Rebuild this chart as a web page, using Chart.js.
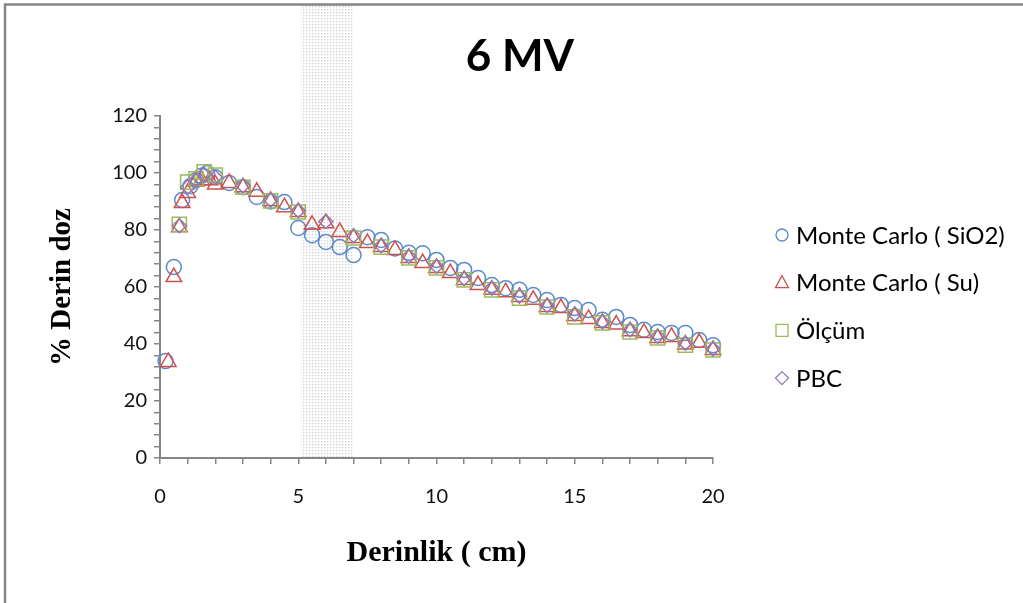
<!DOCTYPE html>
<html>
<head>
<meta charset="utf-8">
<script src="https://cdn.jsdelivr.net/npm/chart.js@4.4.1/dist/chart.umd.min.js"></script>
<style>
  html, body { margin: 0; padding: 0; background: #fff; }
  canvas { display: block; }
</style>
</head>
<body>
<canvas id="chart" width="1023" height="603"></canvas>
<script>
// values
const chartTitle = '6 MV'
const xTitle = 'Derinlik ( cm)'
const yTitle = '% Derin doz'
const seriesNames = ['Monte Carlo ( SiO2)', 'Monte Carlo ( Su)', 'Ölçüm', 'PBC']

const sio2X = [0.2, 0.5, 0.8, 1.1, 1.3, 1.5, 1.7, 2.0, 2.5, 3.0, 3.5, 4.0, 4.5, 5.0, 5.5, 6.0, 6.5, 7.0, 7.5, 8.0, 8.5, 9.0, 9.5, 10.0, 10.5, 11.0, 11.5, 12.0, 12.5, 13.0, 13.5, 14.0, 14.5, 15.0, 15.5, 16.0, 16.5, 17.0, 17.5, 18.0, 18.5, 19.0, 19.5, 20.0]
const sio2Y = [34, 67, 90.5, 95.4, 97.5, 99, 100, 98.5, 96.5, 95, 91.6, 90, 89.8, 80.7, 78.2, 75.8, 74, 71.2, 77.5, 76.5, 73.5, 72, 71.8, 69.5, 66.7, 66, 63.2, 60.7, 59.6, 59, 57.2, 55.4, 53.7, 52.6, 51.9, 48.5, 49.5, 46.7, 45, 44.2, 43.9, 43.9, 41.4, 39.6]

const suX = [0.3, 0.5, 0.7, 0.8, 1.0, 1.3, 1.5, 1.8, 2.0, 2.5, 3.0, 3.5, 4.0, 4.5, 5.0, 5.5, 6.0, 6.5, 7.0, 7.5, 8.0, 8.5, 9.0, 9.5, 10.0, 10.5, 11.0, 11.5, 12.0, 12.5, 13.0, 13.5, 14.0, 14.5, 15.0, 15.5, 16.0, 16.5, 17.0, 17.5, 18.0, 18.5, 19.0, 19.5, 20.0]
const suY = [33.7, 63.5, 81, 89.5, 93, 97, 97.5, 97.5, 96, 96.5, 95, 93.4, 90.2, 88, 86.3, 81.8, 82.4, 79.3, 77.2, 75.4, 74, 73, 70.2, 68.4, 66.7, 64.9, 62.5, 60.7, 59, 58.2, 56.5, 55.5, 53, 52.6, 49.8, 48.8, 47.4, 46.8, 44.5, 43.9, 42.1, 42.5, 39.8, 40.4, 37.9]

const olcumX = [0.7, 1.0, 1.3, 1.6, 2.0, 3, 4, 5, 7, 8, 9, 10, 11, 12, 13, 14, 15, 16, 17, 18, 19, 20]
const olcumY = [82, 96.8, 98, 100.4, 99.3, 95, 90.2, 86.3, 77.2, 74, 70.2, 66.7, 62.5, 59, 56.1, 53, 49.5, 47.4, 44.2, 42.1, 39.6, 37.9]

const pbcX = [0.7, 1.0, 1.3, 1.6, 2.0, 3, 4, 5, 6, 7, 8, 9, 10, 11, 12, 13, 14, 15, 16, 17, 18, 19, 20]
const pbcY = [81.5, 95, 97.5, 99.5, 98.5, 95.5, 90.5, 86.8, 83, 78, 74.5, 70.8, 67.3, 63, 59.6, 56.8, 53.5, 50.5, 47.8, 45, 42.7, 40.3, 38.3]

// shaded depth band (cm)
const bandRange = [5.1, 7.0]

const colors = ['#5b8ccc', '#d0504d', '#9bbb59', '#9179b6']
const styles = ['circle', 'triangle', 'rect', 'rectRot']
const radii = [7.5, 9, 10, 7]

const pts = (xs, ys) => xs.map((x, i) => ({ x: x, y: ys[i] }))

function makePattern(ctx) {
    const c = document.createElement('canvas')
    c.width = 3
    c.height = 3
    const p = c.getContext('2d')
    p.fillStyle = '#ffffff'
    p.fillRect(0, 0, 3, 3)
    p.fillStyle = '#d2d2d2'
    p.fillRect(0, 0, 1, 1)
    p.fillStyle = '#ebebeb'
    p.fillRect(1, 0, 1, 1)
    p.fillRect(0, 1, 1, 1)
    return ctx.createPattern(c, 'repeat')
}

// frame, band, title and legend
const decorations = {
    id: 'decorations',
    beforeDraw(chart) {
        const ctx = chart.ctx
        ctx.save()
        ctx.fillStyle = '#ffffff'
        ctx.fillRect(0, 0, chart.width, chart.height)
        ctx.strokeStyle = '#858585'
        ctx.lineWidth = 2.5
        ctx.beginPath()
        ctx.moveTo(5, chart.height)
        ctx.lineTo(5, 4.5)
        ctx.lineTo(chart.width, 4.5)
        ctx.stroke()
        ctx.restore()
    },
    beforeDatasetsDraw(chart) {
        const ctx = chart.ctx
        const xs = chart.scales.x
        const x0 = xs.getPixelForValue(bandRange[0])
        const x1 = xs.getPixelForValue(bandRange[1])
        ctx.save()
        ctx.fillStyle = makePattern(ctx)
        ctx.fillRect(x0, 6, x1 - x0, chart.chartArea.bottom - 7)
        ctx.restore()
    },
    afterDraw(chart) {
        const ctx = chart.ctx
        ctx.save()
        ctx.fillStyle = '#000'
        ctx.font = 'bold 44px Lato'
        ctx.textAlign = 'center'
        ctx.textBaseline = 'middle'
        ctx.fillText(chartTitle, 520, 57)

        ctx.font = '24px Lato'
        ctx.textAlign = 'left'
        chart.data.datasets.forEach((ds, i) => {
            const y = 235 + i * 47.7
            const x = 782
            ctx.strokeStyle = ds.borderColor
            ctx.lineWidth = 1.3
            ctx.beginPath()
            if (ds.pointStyle === 'circle') {
                ctx.arc(x, y, 6, 0, Math.PI * 2)
            } else if (ds.pointStyle === 'triangle') {
                ctx.moveTo(x, y - 7)
                ctx.lineTo(x + 6.5, y + 5)
                ctx.lineTo(x - 6.5, y + 5)
                ctx.closePath()
            } else if (ds.pointStyle === 'rect') {
                ctx.rect(x - 6, y - 6, 12, 12)
            } else {
                ctx.moveTo(x, y - 6.5)
                ctx.lineTo(x + 6.5, y)
                ctx.lineTo(x, y + 6.5)
                ctx.lineTo(x - 6.5, y)
                ctx.closePath()
            }
            ctx.stroke()
            ctx.fillStyle = '#000'
            ctx.fillText(ds.label, 796, y + 1)
        })
        ctx.restore()
    }
}

const seriesX = [sio2X, suX, olcumX, pbcX]
const seriesY = [sio2Y, suY, olcumY, pbcY]

const datasets = seriesNames.map((name, i) => ({
    label: name,
    data: pts(seriesX[i], seriesY[i]),
    showLine: false,
    pointStyle: styles[i],
    pointRadius: radii[i],
    pointHoverRadius: radii[i],
    pointBorderWidth: 1.5,
    borderColor: colors[i],
    backgroundColor: 'rgba(0,0,0,0)',
    pointBackgroundColor: 'rgba(0,0,0,0)',
    order: 4 - i,
    clip: false
}))

const axisGray = '#868686'

new Chart(document.getElementById('chart'), {
    type: 'scatter',
    data: { datasets: datasets },
    plugins: [decorations],
    options: {
        responsive: false,
        animation: false,
        layout: {
            padding: { top: 116, right: 310, left: 0, bottom: 0 }
        },
        plugins: {
            legend: { display: false },
            title: { display: false },
            tooltip: { enabled: false }
        },
        scales: {
            x: {
                type: 'linear',
                min: 0,
                max: 20,
                afterFit: (s) => { s.height = 145 },
                grid: {
                    drawOnChartArea: false,
                    drawTicks: true,
                    tickLength: 6,
                    color: axisGray,
                    lineWidth: 1.5
                },
                border: { display: true, color: axisGray, width: 2 },
                ticks: {
                    stepSize: 1,
                    autoSkip: false,
                    maxRotation: 0,
                    padding: 21,
                    color: '#111',
                    font: { family: 'Lato', size: 20 },
                    callback: (v) => (v % 5 === 0 ? String(v) : '')
                },
                title: {
                    display: true,
                    text: xTitle,
                    color: '#000',
                    font: { family: 'Liberation Serif', size: 30, weight: 'bold' },
                    padding: { top: 0, bottom: 32 }
                }
            },
            y: {
                type: 'linear',
                min: 0,
                max: 120,
                afterFit: (s) => { s.width = 160 },
                grid: {
                    drawOnChartArea: false,
                    drawTicks: true,
                    tickLength: 6,
                    color: axisGray,
                    lineWidth: 1.5
                },
                border: { display: true, color: axisGray, width: 2 },
                ticks: {
                    stepSize: 4,
                    maxTicksLimit: 50,
                    autoSkip: false,
                    padding: 7,
                    color: '#111',
                    font: { family: 'Lato', size: 20 },
                    callback: (v) => (v % 20 === 0 ? String(v) : '')
                },
                title: {
                    display: true,
                    text: yTitle,
                    color: '#000',
                    font: { family: 'Liberation Serif', size: 29, weight: 'bold' },
                    padding: { top: 45, bottom: 0 }
                }
            }
        }
    }
})
</script>
</body>
</html>
